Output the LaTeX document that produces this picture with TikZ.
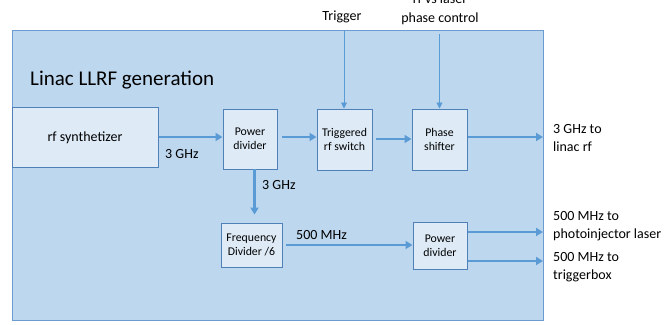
\documentclass[tikz,border=0pt]{standalone}
\usepackage{fontspec}
\setmainfont{Carlito}
\usetikzlibrary{arrows.meta}
\definecolor{bigfill}{HTML}{BDD7EE}
\definecolor{bigborder}{HTML}{6C9BD2}
\definecolor{boxfill}{HTML}{DEEBF7}
\definecolor{boxborder}{HTML}{4F81B8}
\definecolor{arrowc}{HTML}{5B9BD5}
\tikzset{
  blk/.style={draw=boxborder, fill=boxfill, line width=1pt, inner sep=0pt, align=center, font=\fontsize{11.8}{14}\selectfont},
  bigarrow/.style={draw=arrowc, line width=2.6pt, -{Triangle[length=7pt,width=8pt]}},
  thinarrow/.style={draw=arrowc, line width=0.9pt, -{Triangle[length=6pt,width=6pt]}},
  lbl/.style={font=\fontsize{14}{18.5}\selectfont, inner sep=0pt, align=left},
}
\begin{document}
\begin{tikzpicture}[x=1pt,y=-1pt]
\useasboundingbox (0,0) rectangle (672,324);
\node[draw=bigborder, fill=bigfill, line width=1.2pt, minimum width=531pt, minimum height=290pt, anchor=north west, inner sep=0pt] (main) at (12,30) {};
\node[anchor=base west, inner sep=0pt, font=\fontsize{21}{24}\selectfont] (title) at (30,85) {Linac LLRF generation};

\node[blk, minimum width=146pt, minimum height=60pt, font=\fontsize{14}{16}\selectfont] (synth) at (85,137.5) {rf synthetizer};
\node[blk, minimum width=54pt, minimum height=60pt] (pd1) at (250,139) {Power\\divider};
\node[blk, minimum width=55pt, minimum height=61pt] (ts) at (344.5,139.5) {Triggered\\rf switch};
\node[blk, minimum width=55pt, minimum height=61pt] (ps) at (439.5,139.5) {Phase\\shifter};
\node[blk, minimum width=61pt, minimum height=44pt] (fd) at (251.5,245) {Frequency\\Divider /6};
\node[blk, minimum width=54pt, minimum height=47pt] (pd2) at (440,245.5) {Power\\divider};

% top inputs
\node[lbl, anchor=base, align=center] (trig) at (342,20) {Trigger};
\node[lbl, anchor=base, align=center] (phc) at (440,22) {rf vs laser\\phase control};
\coordinate (trigtop) at (344,30);
\coordinate (phctop) at (439.5,34);
\draw[thinarrow] (trigtop) -- (trigtop |- ts.north);
\draw[thinarrow] (phctop) -- (phctop |- ps.north);

% main chain
\draw[bigarrow] (synth.east |- 0,137) -- (pd1.west |- 0,137);
\draw[bigarrow] (282,137) coordinate (a1) -- (ts.west |- a1);
\draw[bigarrow] (376,139) coordinate (a2) -- (ps.west |- a2);
\coordinate (out1) at (543,137);
\draw[bigarrow] (ps.east |- out1) -- (out1);

\node[lbl, anchor=west] (l3ghz) at (165,154) {3 GHz};
\node[lbl, anchor=west] (out1lbl) at (553,138) {3 GHz to\\linac rf};

% lower path
\coordinate (dn) at (254.5,169);
\draw[bigarrow, shorten >=8pt] (dn) -- (dn |- fd.north);
\node[lbl, anchor=west] (l3ghzb) at (262,185) {3 GHz};
\draw[bigarrow] (286,245) coordinate (a3) -- (pd2.west |- a3);
\node[lbl, anchor=west] (l500) at (296,235) {500 MHz};

\coordinate (out2) at (543,232);
\coordinate (out3) at (543,261);
\draw[bigarrow] (pd2.east |- out2) -- (out2);
\draw[bigarrow] (pd2.east |- out3) -- (out3);
\node[lbl, anchor=west] (out2lbl) at (553,226) {500 MHz to\\photoinjector laser};
\node[lbl, anchor=west] (out3lbl) at (553,267) {500 MHz to\\triggerbox};
\end{tikzpicture}
\end{document}
